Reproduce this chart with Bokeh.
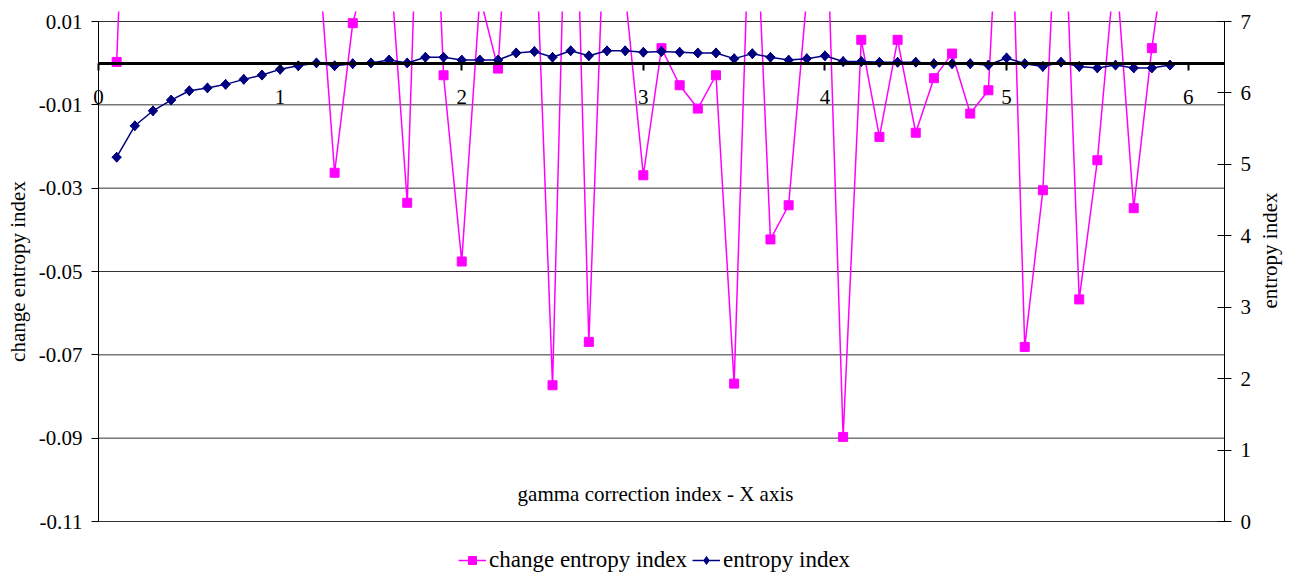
import math
from bokeh.plotting import figure
from bokeh.models import (LinearAxis, Range1d, FixedTicker, PrintfTickFormatter,
                          Legend, LegendItem, Label)
from bokeh.embed import file_html
from bokeh.resources import INLINE

# ---------------- data ----------------
gamma = [0.1, 0.2, 0.3, 0.4, 0.5, 0.6, 0.7, 0.8, 0.9, 1.0,
         1.1, 1.2, 1.3, 1.4, 1.5, 1.6, 1.7, 1.8, 1.9, 2.0,
         2.1, 2.2, 2.3, 2.4, 2.5, 2.6, 2.7, 2.8, 2.9, 3.0,
         3.1, 3.2, 3.3, 3.4, 3.5, 3.6, 3.7, 3.8, 3.9, 4.0,
         4.1, 4.2, 4.3, 4.4, 4.5, 4.6, 4.7, 4.8, 4.9, 5.0,
         5.1, 5.2, 5.3, 5.4, 5.5, 5.6, 5.7, 5.8, 5.9]

change_entropy = [0.0003, 0.110, 0.045, 0.030, 0.025, 0.016, 0.018, 0.020, 0.019, 0.024,
                  0.020, 0.033, -0.0263, 0.0096, 0.026, 0.028, -0.0335, 0.100, -0.0029, -0.0476,
                  0.016, -0.0013, 0.071, 0.040, -0.0773, 0.090, -0.0669, 0.052, 0.017, -0.0269,
                  0.0036, -0.0053, -0.0109, -0.0029, -0.0769, 0.058, -0.0423, -0.0341, 0.016, 0.049,
                  -0.0897, 0.0056, -0.0177, 0.0056, -0.0167, -0.0036, 0.0023, -0.0121, -0.0065, 0.080,
                  -0.0681, -0.0305, 0.060, -0.0567, -0.0233, 0.025, -0.0348, 0.0036, 0.035]

entropy = [5.10, 5.54, 5.75, 5.90, 6.03, 6.07, 6.12, 6.19, 6.25, 6.33,
           6.38, 6.42, 6.38, 6.41, 6.42, 6.46, 6.42, 6.50, 6.50, 6.46,
           6.46, 6.46, 6.56, 6.58, 6.50, 6.59, 6.52, 6.59, 6.59, 6.57,
           6.58, 6.57, 6.56, 6.56, 6.48, 6.55, 6.50, 6.46, 6.48, 6.52,
           6.44, 6.44, 6.43, 6.43, 6.43, 6.41, 6.41, 6.41, 6.39, 6.49,
           6.41, 6.37, 6.43, 6.37, 6.35, 6.39, 6.35, 6.35, 6.39]

x_ticks = [0, 1, 2, 3, 4, 5, 6]
left_ticks = [0.01, -0.01, -0.03, -0.05, -0.07, -0.09, -0.11]
right_ticks = [0, 1, 2, 3, 4, 5, 6, 7]
right_labels = ["0", "1", "2", "3", "4", "5", "6", "7"]

series_names = ["change entropy index", "entropy index"]
x_title = "gamma correction index - X axis"
left_title = "change entropy index"
right_title = "entropy index"

# ---------------- layout geometry (pixels) ----------------
W, H = 1294, 573
PL, PR, PT, PB = 98, 1224, 21, 521      # plot-area box as in the reference
CLIP_TOP = 11                            # series are clipped a little above the box
X0, X1 = 0.0, 6.2
Y0, Y1 = -0.11, 0.01
R0, R1 = 0.0, 7.0

sx = (PR - PL) / (X1 - X0)
sy = (PB - PT) / (Y1 - Y0)
sr = (PB - PT) / (R1 - R0)

x_range = Range1d(X0 - PL / sx, X1 + (W - PR) / sx)
y_range = Range1d(Y0 - (H - PB) / sy, Y1 + (PT - CLIP_TOP) / sy)
r_range = Range1d(R0 - (H - PB) / sr, R1 + (PT - CLIP_TOP) / sr)

# ---------------- styling ----------------
FONT = "Liberation Serif"
FS = "21px"
MAGENTA = "#FF00FF"
NAVY = "#000080"

p = figure(width=W, height=H, output_backend="svg", toolbar_location=None,
           x_range=x_range, y_range=y_range,
           min_border_left=0, min_border_right=0, min_border_top=CLIP_TOP,
           min_border_bottom=0)
p.extra_y_ranges = {"ent": r_range}
p.outline_line_color = None
p.background_fill_color = "white"
p.border_fill_color = "white"
p.xgrid.visible = False
p.ygrid.visible = False

# horizontal grid lines at the left-axis ticks, spanning the plot area only
p.segment(x0=X0, x1=X1, y0=left_ticks, y1=left_ticks,
          line_color="#333333", line_width=1)

# x axis crossing at zero
xa = p.xaxis[0]
xa.fixed_location = 0
xa.bounds = (X0, X1)
xa.ticker = FixedTicker(ticks=x_ticks)
xa.axis_line_color = "black"
xa.axis_line_width = 3
xa.major_tick_in = 0
xa.major_tick_out = 7
xa.major_tick_line_width = 2
xa.major_tick_line_color = "black"
xa.minor_tick_line_color = None
xa.major_label_standoff = 20
xa.major_label_text_font = FONT
xa.major_label_text_font_size = FS
xa.major_label_text_color = "black"

# left axis
ya = p.yaxis[0]
ya.fixed_location = X0
ya.bounds = (Y0, Y1)
ya.ticker = FixedTicker(ticks=left_ticks)
ya.formatter = PrintfTickFormatter(format="%.2f")
ya.major_tick_in = 0
ya.major_tick_out = 7
ya.minor_tick_line_color = None
ya.axis_line_color = "black"
ya.major_tick_line_color = "black"
ya.major_label_standoff = 9
ya.major_label_text_font = FONT
ya.major_label_text_font_size = FS
ya.major_label_text_color = "black"
ya.axis_label = left_title
ya.axis_label_standoff = 6
ya.axis_label_text_font = FONT
ya.axis_label_text_font_size = FS
ya.axis_label_text_font_style = "normal"
ya.axis_label_text_color = "black"

# right axis (line and crossing ticks); its labels are set beside it below
ra = LinearAxis(y_range_name="ent", ticker=FixedTicker(ticks=right_ticks))
ra.fixed_location = X1
ra.bounds = (R0, R1)
ra.major_label_overrides = {t: "" for t in right_ticks}
ra.major_tick_in = 7
ra.major_tick_out = 7
ra.minor_tick_line_color = None
ra.axis_line_color = "black"
ra.major_tick_line_color = "black"
p.add_layout(ra, "right")

p.text(x=X1, y=right_ticks, text=right_labels, y_range_name="ent",
       x_offset=16, text_align="left", text_baseline="middle",
       text_font={"value": FONT}, text_font_size={"value": FS}, text_color="black")

# right axis title, reading bottom-to-top as in the reference
p.add_layout(Label(x=X1 + 45 / sx, y=Y1 - 229 / sy, text=right_title,
                   angle=math.pi / 2, text_align="center", text_baseline="middle",
                   text_font=FONT, text_font_size=FS, text_color="black"))

# series
r1l = p.line(gamma, change_entropy, line_color=MAGENTA, line_width=1.5)
r1s = p.scatter(gamma, change_entropy, marker="square", size=9,
                fill_color=MAGENTA, line_color=MAGENTA)
r2l = p.line(gamma, entropy, y_range_name="ent", line_color=NAVY, line_width=1.5)
r2k = p.scatter(gamma, entropy, y_range_name="ent", marker="diamond", size=10,
                fill_color=NAVY, line_color=NAVY)
r2s = p.scatter(gamma, entropy, y_range_name="ent", marker="square", size=6.7,
                angle=math.pi / 4, fill_color=NAVY, line_color=NAVY)

# x axis title inside plot area
p.add_layout(Label(x=X0 + 557 / sx, y=Y1 - 472 / sy, text=x_title,
                   text_align="center", text_baseline="middle", text_font=FONT,
                   text_font_size=FS, text_color="black"))

legend = Legend(items=[LegendItem(label=series_names[0], renderers=[r1l, r1s]),
                       LegendItem(label=series_names[1], renderers=[r2l, r2k])],
                orientation="horizontal", location=(458, 0),
                border_line_color=None, background_fill_alpha=0,
                label_text_font=FONT, label_text_font_size="23px",
                label_text_color="black",
                glyph_width=28, glyph_height=20, spacing=5, padding=0, margin=0,
                label_standoff=3)
p.add_layout(legend)

open("out.html", "w").write(file_html(p, INLINE))
